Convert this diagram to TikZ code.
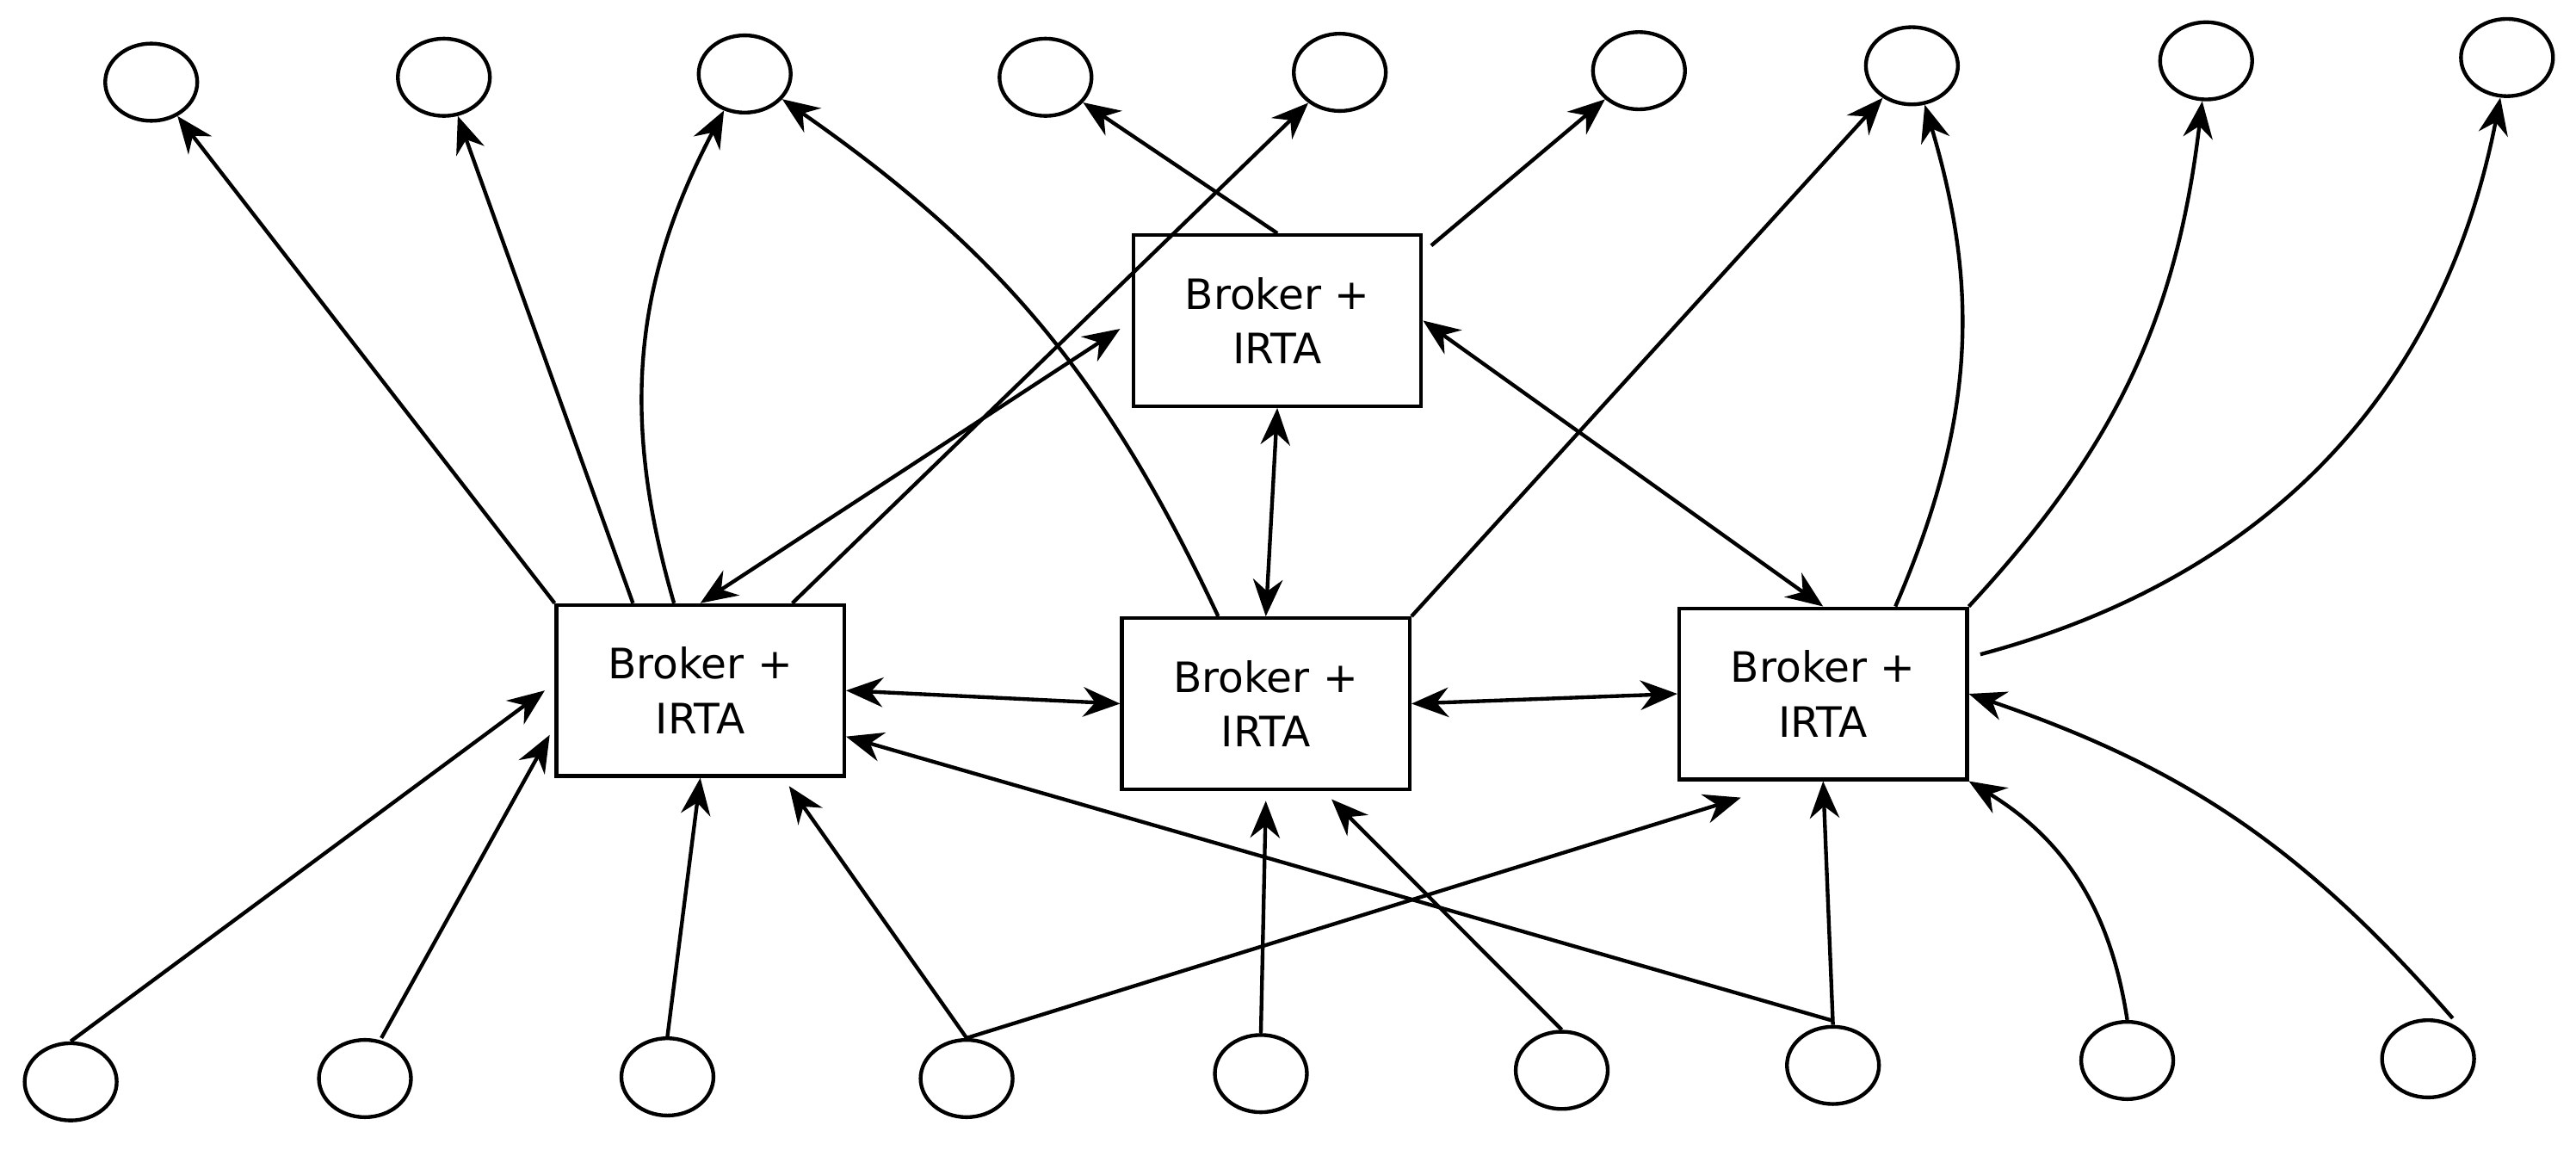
\documentclass[tikz,border=0pt]{standalone}
\usepackage{fontspec}
\setmainfont{DejaVu Sans}
\usetikzlibrary{shapes.geometric,arrows.meta}
\begin{document}
\begin{tikzpicture}[x=0.02cm,y=-0.02cm,
  e/.style={draw,ellipse,line width=1.3pt,minimum width=1.12cm,minimum height=0.94cm,inner sep=0pt},
  b/.style={draw,rectangle,line width=1.3pt,minimum width=3.5cm,minimum height=2.08cm,align=center,font=\fontsize{14.5}{19}\selectfont},
  a/.style={line width=1.3pt,-{Stealth[length=0.45cm,width=0.36cm]}},
  aa/.style={line width=1.3pt,{Stealth[length=0.45cm,width=0.36cm]}-{Stealth[length=0.45cm,width=0.36cm]}}]
\useasboundingbox (0,0) rectangle (1567,699);
\foreach \n/\x/\y in {1/92/50,2/270/47,3/453/45,4/636/47,5/815/44,6/997/43,7/1163/40,8/1342/37,9/1525/35}
  \node[e] (t\n) at (\x,\y) {};
\foreach \n/\x/\y in {1/43/658,2/222/656,3/406/655,4/588/656,5/767/653,6/950/651,7/1115/648,8/1294/645,9/1477/644}
  \node[e] (b\n) at (\x,\y) {};
\node[b] (T) at (777,195) {Broker +\\IRTA};
\node[b] (L) at (426,420) {Broker +\\IRTA};
\node[b] (M) at (770,428) {Broker +\\IRTA};
\node[b] (R) at (1109,422) {Broker +\\IRTA};
% upward
\draw[a] (L.north west) -- (t1);
\draw[a] ([xshift=-0.82cm]L.north) -- (t2);
\draw[a] ([xshift=-0.32cm]L.north) to[bend left=22] (t3);
\draw[a] ([xshift=1.12cm]L.north) -- (t5);
\draw[a] ([xshift=-0.58cm]M.north) to[bend right=15] (t3);
\draw[a] (T.north) -- (t4);
\draw[a] ([xshift=0.1cm,yshift=-0.15cm]T.north east) -- (t6);
\draw[a] (M.north east) -- (t7);
\draw[a] ([xshift=0.88cm]R.north) to[bend right=20] (t7);
\draw[a] (R.north east) to[bend right=18] (t8);
\draw[a] ([xshift=0.14cm,yshift=0.48cm]R.east) to[bend right=32] (t9);
% between brokers
\draw[aa] (L.north) -- ([xshift=-0.14cm,yshift=-0.1cm]T.west);
\draw[aa] (T.south) -- (M.north);
\draw[aa] (T.east) -- (R.north);
\draw[aa] (L.east) -- (M.west);
\draw[aa] (M.east) -- (R.west);
% from bottom
\draw[a] (b1.north) -- ([xshift=-0.12cm]L.west);
\draw[a] ([xshift=0.2cm]b2.north) -- ([xshift=-0.06cm,yshift=-0.54cm]L.west);
\draw[a] (b3.north) -- (L.south);
\draw[a] (b4.north) -- ([xshift=1.08cm,yshift=-0.1cm]L.south);
\draw[a] (b4.north) -- ([xshift=-1cm,yshift=-0.2cm]R.south);
\draw[a] (b5.north) -- ([yshift=-0.12cm]M.south);
\draw[a] (b6.north) -- ([xshift=0.8cm,yshift=-0.1cm]M.south);
\draw[a] ([yshift=0.05cm]b7.north) -- ([yshift=-0.56cm]L.east);
\draw[a] (b7.north) -- (R.south);
\draw[a] (b8.north) to[bend right=25] (R.south east);
\draw[a] ([xshift=0.3cm]b9.north) to[bend right=15] (R.east);
\end{tikzpicture}
\end{document}
